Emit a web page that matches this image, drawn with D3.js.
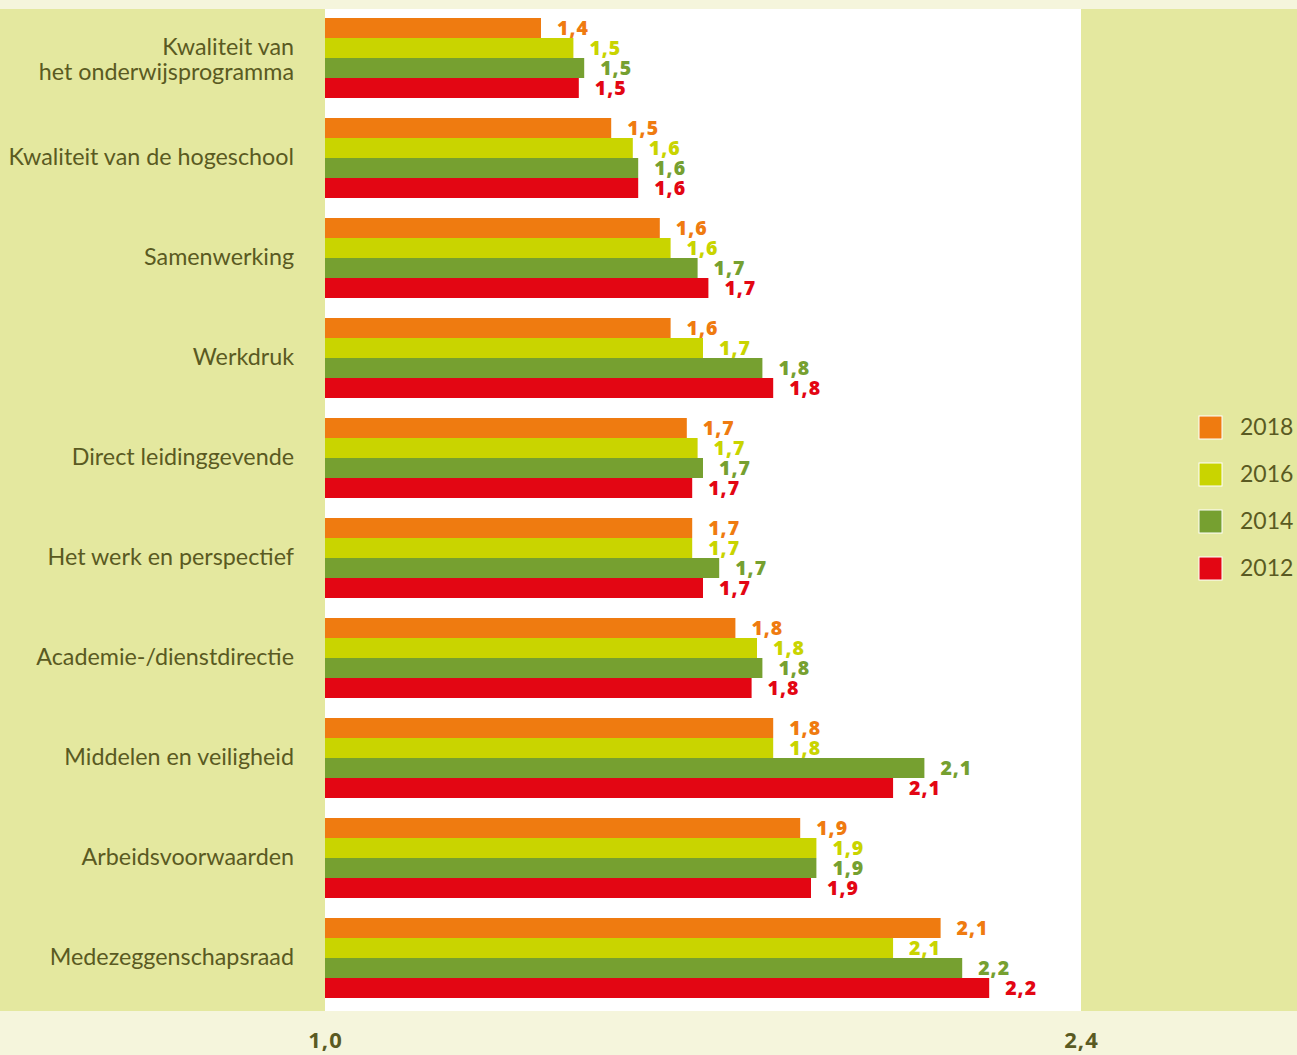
<!DOCTYPE html>
<html>
<head>
<meta charset="utf-8">
<script src="https://cdn.jsdelivr.net/npm/d3@7"></script>
<style>
  html, body { margin: 0; padding: 0; background: #f5f5dc; }
  svg { display: block; }
</style>
</head>
<body>
<svg id="chart" width="1297" height="1055"></svg>
<script>
// Themes of the employee survey, one group of bars per theme
const categories = [
  "Kwaliteit van\nhet onderwijsprogramma",
  "Kwaliteit van de hogeschool",
  "Samenwerking",
  "Werkdruk",
  "Direct leidinggevende",
  "Het werk en perspectief",
  "Academie-/dienstdirectie",
  "Middelen en veiligheid",
  "Arbeidsvoorwaarden",
  "Medezeggenschapsraad"
];

const years = ["2018", "2016", "2014", "2012"];

// Scores per survey year, same order as the categories
const values2018 = [1.40, 1.53, 1.62, 1.64, 1.67, 1.68, 1.76, 1.83, 1.88, 2.14];
const values2016 = [1.46, 1.57, 1.64, 1.70, 1.69, 1.68, 1.80, 1.83, 1.91, 2.052];
const values2014 = [1.48, 1.58, 1.69, 1.81, 1.70, 1.73, 1.81, 2.11, 1.91, 2.18];
const values2012 = [1.47, 1.58, 1.71, 1.83, 1.68, 1.70, 1.79, 2.052, 1.90, 2.23];

const axisTicks = [1.0, 2.4];

const seriesColors = ["#ef7b10", "#c9d400", "#76a030", "#e30613"];
const textColor = "#5a5a22";
const panelColor = "#e4e89f";
const stripColor = "#f5f5dc";

const series = years.map((year, i) => ({
  year,
  color: seriesColors[i],
  values: [values2018, values2016, values2014, values2012][i]
}));

const W = 1297, H = 1055;
const plotLeft = 325, plotRight = 1081, plotTop = 9, plotBottom = 1011;

const svg = d3.select("#chart");
const fmt = v => d3.format(".1f")(v).replace(".", ",");

// Background: cream strips, green side panels, white plot area
svg.append("rect").attr("x", 0).attr("y", 0).attr("width", W).attr("height", H).attr("fill", stripColor);
svg.append("rect").attr("x", 0).attr("y", plotTop).attr("width", W).attr("height", plotBottom - plotTop).attr("fill", panelColor);
svg.append("rect").attr("x", plotLeft).attr("y", plotTop).attr("width", plotRight - plotLeft).attr("height", plotBottom - plotTop).attr("fill", "#ffffff");

const x = d3.scaleLinear().domain([1.0, 2.4]).range([plotLeft, plotRight]);
const y = d3.scaleBand().domain(categories).range([8, 1008]).paddingInner(0.2).paddingOuter(0.1);
const yInner = d3.scaleBand().domain(years).range([0, y.bandwidth()]);

const groups = svg.append("g").selectAll("g.cat")
  .data(categories)
  .join("g")
  .attr("class", "cat")
  .attr("transform", c => `translate(0,${y(c)})`);

groups.each(function (c, ci) {
  const g = d3.select(this);
  const rows = series.map(s => ({ year: s.year, color: s.color, value: s.values[ci] }));

  g.selectAll("rect.bar")
    .data(rows)
    .join("rect")
    .attr("class", "bar")
    .attr("x", x(1.0))
    .attr("y", d => yInner(d.year))
    .attr("width", d => x(d.value) - x(1.0))
    .attr("height", yInner.bandwidth())
    .attr("fill", d => d.color);

  g.selectAll("text.val")
    .data(rows)
    .join("text")
    .attr("class", "val")
    .attr("x", d => x(d.value) + 16)
    .attr("y", d => yInner(d.year) + yInner.bandwidth() / 2)
    .attr("dy", "0.36em")
    .attr("fill", d => d.color)
    .style("font-family", "'Open Sans', sans-serif")
    .style("font-weight", 800)
    .style("font-size", "19.5px")
    .style("letter-spacing", "1px")
    .text(d => fmt(d.value));

  // Category label, right aligned against the plot, possibly two lines
  const lines = c.split("\n");
  const mid = y.bandwidth() / 2;
  const label = g.append("text")
    .attr("text-anchor", "end")
    .attr("fill", textColor)
    .style("font-family", "Lato, sans-serif")
    .style("font-size", "23.3px");
  lines.forEach((line, li) => {
    const base = lines.length === 1 ? mid + 7 : mid - 3 + li * 25;
    label.append("tspan")
      .attr("x", 294)
      .attr("y", base)
      .text(line);
  });
});

// Value axis: only the two end ticks, labelled below the plot
const axis = svg.append("g")
  .attr("transform", `translate(0,${plotBottom})`)
  .call(d3.axisBottom(x).tickValues(axisTicks).tickFormat(fmt).tickSize(0).tickPadding(0));
axis.select(".domain").remove();
axis.selectAll("text")
  .attr("y", 37)
  .attr("dy", 0)
  .attr("fill", textColor)
  .style("font-family", "'Open Sans', sans-serif")
  .style("font-weight", 700)
  .style("font-size", "22px")
  .style("letter-spacing", "1px");

// Legend
const legend = svg.append("g").attr("transform", "translate(1199,416)");
const item = legend.selectAll("g")
  .data(series)
  .join("g")
  .attr("transform", (d, i) => `translate(0,${i * 47})`);
item.append("rect")
  .attr("width", 23).attr("height", 23)
  .attr("fill", d => d.color)
  .attr("stroke", "#ffffff").attr("stroke-width", 1);
item.append("text")
  .attr("x", 41).attr("y", 19)
  .attr("fill", textColor)
  .style("font-family", "Lato, sans-serif")
  .style("font-size", "23px")
  .text(d => d.year);
</script>
</body>
</html>
